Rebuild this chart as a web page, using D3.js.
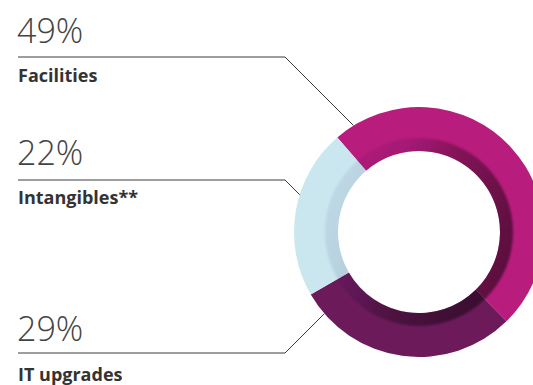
<!DOCTYPE html>
<html>
<head>
<meta charset="utf-8">
<script src="https://cdn.jsdelivr.net/npm/d3@7"></script>
<style>
  html, body { margin: 0; padding: 0; background: #fff; }
  svg { display: block; }
</style>
</head>
<body>
<svg id="chart" width="533" height="385"></svg>
<script>
// Share of spending by category
const categories = ["Facilities", "IT upgrades", "Intangibles**"];
const shares = [49, 29, 22];
const shareLabels = ["49%", "29%", "22%"];
const colors = ["#b81c7c", "#6d1a5b", "#cae6ef"];

const W = 533, H = 385;
const cx = 419, cy = 232;
const outerR = 125, innerR = 81, bandR = 94;
const startDeg = -40.8;

const svg = d3.select("#chart");
const defs = svg.append("defs");

// Shading for the inner band (in ring-centred coordinates): darker towards the lower right
const grad = defs.append("linearGradient")
  .attr("id", "bandShade")
  .attr("gradientUnits", "userSpaceOnUse")
  .attr("x1", -bandR).attr("y1", -bandR * 0.4)
  .attr("x2", bandR).attr("y2", bandR * 0.4);
grad.append("stop").attr("offset", "0").attr("stop-color", "#1a3a50").attr("stop-opacity", 0.06);
grad.append("stop").attr("offset", "0.28").attr("stop-color", "#1a1a30").attr("stop-opacity", 0.1);
grad.append("stop").attr("offset", "0.55").attr("stop-color", "#000").attr("stop-opacity", 0.3);
grad.append("stop").attr("offset", "1").attr("stop-color", "#000").attr("stop-opacity", 0.52);

defs.append("filter").attr("id", "soft")
  .attr("x", "-10%").attr("y", "-10%").attr("width", "120%").attr("height", "120%")
  .append("feGaussianBlur").attr("stdDeviation", 0.8);

defs.append("clipPath").attr("id", "ringClip")
  .append("path")
  .attr("d", d3.arc().innerRadius(innerR).outerRadius(outerR)({startAngle: 0, endAngle: 2 * Math.PI}));

const pie = d3.pie().sort(null).value(d => d)
  .startAngle(startDeg * Math.PI / 180)
  .endAngle(startDeg * Math.PI / 180 + 2 * Math.PI);
const arcs = pie(shares);

const arc = d3.arc().innerRadius(innerR).outerRadius(outerR);
const g = svg.append("g").attr("transform", `translate(${cx},${cy})`);

g.selectAll("path.slice")
  .data(arcs)
  .join("path")
  .attr("class", "slice")
  .attr("d", arc)
  .attr("fill", (d, i) => colors[i]);

// Inner shaded band
g.append("g").attr("clip-path", "url(#ringClip)")
  .append("path")
  .attr("d", d3.arc().innerRadius(innerR - 4).outerRadius(bandR)({startAngle: 0, endAngle: 2 * Math.PI}))
  .attr("fill", "url(#bandShade)")
  .attr("filter", "url(#soft)");

// Callouts
const textX = 18, elbowX = 285;
const callouts = [
  { idx: 0, lineY: 57, pctY: 43, nameY: 82, dir: 1 },
  { idx: 2, lineY: 180, pctY: 165, nameY: 204, dir: 1 },
  { idx: 1, lineY: 353, pctY: 341, nameY: 381, dir: -1 }
];

// Point where a 45-degree leader from the elbow meets the outer edge
function leaderEnd(x0, y0, dir) {
  const ux = Math.SQRT1_2, uy = dir * Math.SQRT1_2;
  const dx = x0 - cx, dy = y0 - cy;
  const b = dx * ux + dy * uy;
  const c = dx * dx + dy * dy - outerR * outerR;
  const t = -b - Math.sqrt(b * b - c);
  return [x0 + ux * t, y0 + uy * t];
}

const labels = svg.append("g");
callouts.forEach(c => {
  const end = leaderEnd(elbowX, c.lineY, c.dir);
  labels.append("path")
    .attr("d", d3.line()([[textX, c.lineY], [elbowX, c.lineY], end]))
    .attr("fill", "none")
    .attr("stroke", "#3c3c3c")
    .attr("stroke-width", 1);
  labels.append("text")
    .attr("x", textX - 1).attr("y", c.pctY)
    .attr("font-family", "'Open Sans', sans-serif")
    .attr("font-weight", 300)
    .attr("font-size", 34)
    .attr("fill", "#444")
    .text(shareLabels[c.idx]);
  labels.append("text")
    .attr("x", textX).attr("y", c.nameY)
    .attr("font-family", "'Open Sans', sans-serif")
    .attr("font-weight", 700)
    .attr("font-size", 18)
    .attr("fill", "#333")
    .text(categories[c.idx]);
});
</script>
</body>
</html>
